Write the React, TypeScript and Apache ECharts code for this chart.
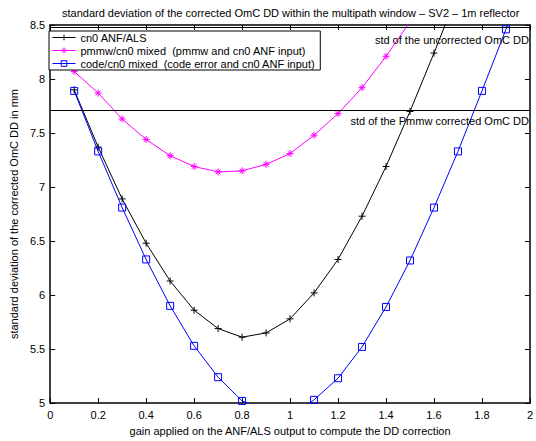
import React, { useEffect, useRef } from 'react';
import * as echarts from 'echarts';

const gains = [0.1, 0.2, 0.3, 0.4, 0.5, 0.6, 0.7, 0.8, 0.9, 1.0, 1.1, 1.2, 1.3, 1.4, 1.5, 1.6, 1.7, 1.8, 1.9, 2.0];
const cn0Anf = [7.9, 7.37, 6.89, 6.48, 6.13, 5.86, 5.69, 5.61, 5.65, 5.78, 6.02, 6.33, 6.73, 7.19, 7.7, 8.24, 8.8];
const pmmwMixed = [8.07, 7.87, 7.63, 7.44, 7.29, 7.19, 7.14, 7.15, 7.21, 7.31, 7.48, 7.68, 7.92, 8.21, 8.53, 8.9];
const codeMixed = [7.89, 7.33, 6.81, 6.33, 5.9, 5.53, 5.24, 5.02, 4.93, 4.87, 5.03, 5.23, 5.52, 5.89, 6.32, 6.81, 7.33, 7.89, 8.46, 9.06];
const seriesNames = [
  'cn0 ANF/ALS',
  'pmmw/cn0 mixed  (pmmw and cn0 ANF input)',
  'code/cn0 mixed  (code error and cn0 ANF input)',
];
const refLevels = [8.48, 7.71];
const refLabels = ['std of the uncorrected OmC DD', 'std of the Pmmw corrected OmC DD'];
const titleText = 'standard deviation of the corrected OmC DD within the multipath window \u2013 SV2 \u2013 1m reflector';
const xName = 'gain applied on the ANF/ALS output to compute the DD correction';
const yName = 'standard deviation of the corrected OmC DD in mm';

const FONT = "'Liberation Sans', Arial, sans-serif";
const PLUS = 'path://M5,0L5,10M0,5L10,5';
const STAR = 'path://M5,0L5,10M0,5L10,5M1.6,1.6L8.4,8.4M8.4,1.6L1.6,8.4';
const SQUARE = 'path://M0,0L10,0L10,10L0,10Z';

const toPairs = (vals: number[]) => vals.map((v, i) => [gains[i], v]);

export default function App() {
  const ref = useRef<HTMLDivElement>(null);
  useEffect(() => {
    if (!ref.current) return;
    const chart = echarts.init(ref.current, undefined, { renderer: 'svg' });
    const axisLine = { show: true, onZero: false, lineStyle: { color: '#000', width: 1.5 } };
    const axisTick = { show: true, inside: true, length: 5, lineStyle: { color: '#000', width: 1 } };
    const labelStyle = { color: '#000', fontSize: 11, fontFamily: FONT };
    const mkSeries = (name: string, vals: number[], color: string, symbol: string, fill: string, extra: any = {}) => ({
      name,
      type: 'line',
      data: toPairs(vals),
      xAxisIndex: 0,
      yAxisIndex: 0,
      symbol,
      symbolSize: 7,
      showAllSymbol: true,
      clip: true,
      lineStyle: { color, width: 1 },
      itemStyle: { color: fill, borderColor: color, borderWidth: 1 },
      emphasis: { disabled: true },
      ...extra,
    });
    chart.setOption({
      animation: false,
      textStyle: { fontFamily: FONT },
      title: {
        text: titleText,
        left: 62,
        top: 7,
        padding: 0,
        textStyle: { fontSize: 11, fontWeight: 'normal', color: '#000', fontFamily: FONT },
      },
      grid: { left: 44, right: 3.5, top: 25, bottom: 30 },
      legend: {
        orient: 'vertical',
        left: 49,
        top: 31,
        padding: [0, 5, 0, 3],
        itemGap: 0,
        itemWidth: 23,
        itemHeight: 7,
        backgroundColor: '#fff',
        borderColor: '#000',
        borderWidth: 1,
        borderRadius: 0,
        z: 10,
        lineStyle: { width: 1 },
        itemStyle: { borderWidth: 1 },
        textStyle: { fontSize: 11, color: '#000', fontFamily: FONT, lineHeight: 13 },
        data: seriesNames,
      },
      xAxis: [
        {
          type: 'value', min: 0, max: 2, interval: 0.2, position: 'bottom',
          axisLine, axisTick, splitLine: { show: false },
          axisLabel: { ...labelStyle, margin: 6 },
          name: xName, nameLocation: 'middle', nameGap: 19,
          nameTextStyle: { ...labelStyle },
        },
        {
          type: 'value', min: 0, max: 2, interval: 0.2, position: 'top',
          axisLine, axisTick, splitLine: { show: false }, axisLabel: { show: false },
        },
      ],
      yAxis: [
        {
          type: 'value', min: 5, max: 8.5, interval: 0.5, position: 'left',
          axisLine, axisTick, splitLine: { show: false },
          axisLabel: { ...labelStyle, margin: 5 },
          name: yName, nameLocation: 'middle', nameGap: 20,
          nameTextStyle: { ...labelStyle },
        },
        {
          type: 'value', min: 5, max: 8.5, interval: 0.5, position: 'right',
          axisLine, axisTick, splitLine: { show: false }, axisLabel: { show: false },
        },
      ],
      series: [
        mkSeries(seriesNames[0], cn0Anf, '#000000', PLUS, '#000000', {
          markLine: {
            silent: true,
            symbol: ['none', 'none'],
            lineStyle: { color: '#000', type: 'solid', width: 1 },
            label: {
              show: true,
              position: 'insideEndBottom',
              color: '#000',
              fontSize: 11,
              fontFamily: FONT,
            },
            data: refLevels.map((v, i) => ({
              yAxis: v,
              label: { formatter: refLabels[i], distance: i === 0 ? [1, 7] : [1, 5] },
            })),
          },
        }),
        mkSeries(seriesNames[1], pmmwMixed, '#ff00ff', STAR, '#ff00ff'),
        mkSeries(seriesNames[2], codeMixed, '#0000ff', SQUARE, 'transparent'),
      ],
    });
    return () => chart.dispose();
  }, []);
  return <div ref={ref} style={{ position: 'fixed', left: 0, top: 0, width: 536, height: 441, background: '#fff' }} />;
}
